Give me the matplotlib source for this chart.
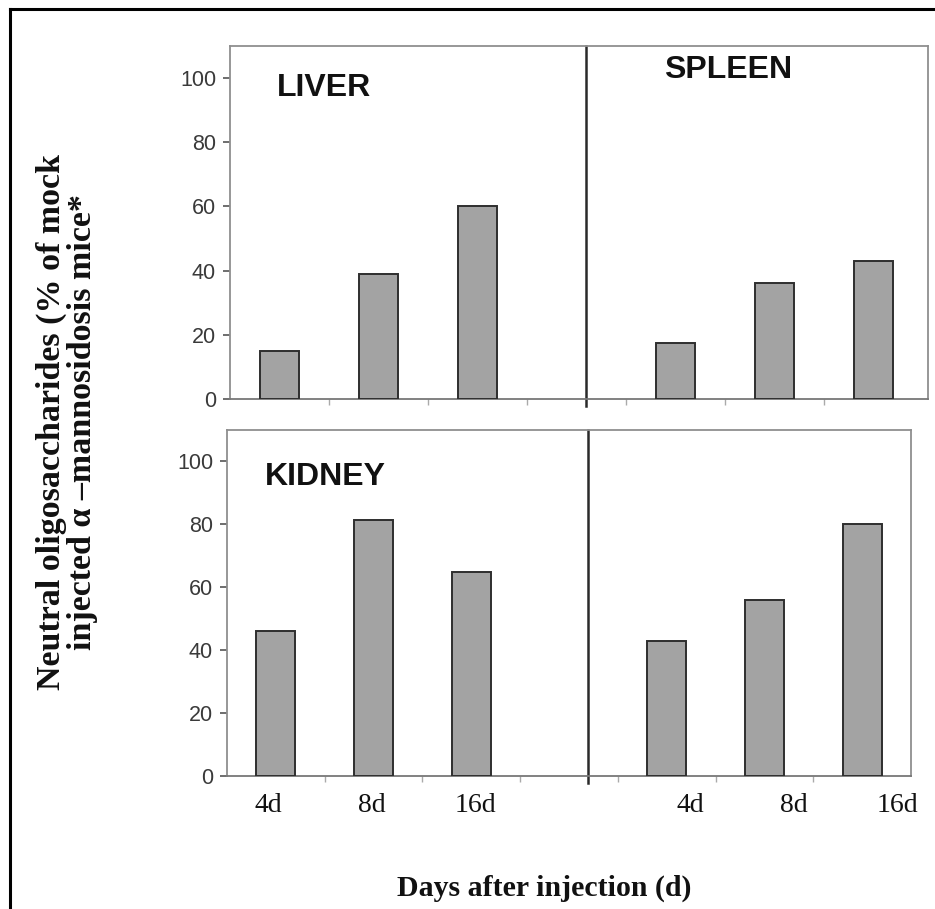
import matplotlib
matplotlib.use("Agg")
import matplotlib.pyplot as plt
from matplotlib.lines import Line2D
import matplotlib.transforms as mtransforms

# Neutral oligosaccharide levels (% of mock-injected alpha-mannosidosis mice)
days = ["4d", "8d", "16d"]
liver = [15, 39, 60]
spleen = [17.5, 36, 43]
kidney = [46, 81.5, 65]
right_bottom = [43, 56, 80]

yticks = [0, 20, 40, 60, 80, 100]
tissue_labels = ["LIVER", "SPLEEN", "KIDNEY"]
ylabel_text = "Neutral oligosaccharides (% of mock\ninjected \u03b1 \u2013mannosidosis mice*"
xlabel_text = "Days after injection (d)"

BAR_FACE = "#a3a3a3"
BAR_EDGE = "#2e2e2e"
FRAME = "#8f8f8f"
TICKC = "#555555"

fig = plt.figure(figsize=(9.35, 9.09), dpi=100)
W, H = 935, 909


def px_axes(x0, y0, x1, y1):
    return fig.add_axes([x0 / W, 1 - y1 / H, (x1 - x0) / W, (y1 - y0) / H])


ax_top = px_axes(230, 46, 928, 399)
ax_bot = px_axes(227, 430, 911, 776)

left_pos = [0.5, 1.5, 2.5]
right_pos = [4.5, 5.5, 6.5]


def style(ax, xmax, divider):
    ax.set_xlim(0, xmax)
    ax.set_ylim(0, 110)
    ax.set_yticks(yticks)
    ax.set_yticklabels([str(v) for v in yticks], fontsize=15.5,
                       color="#3a3a3a", family="Liberation Sans")
    ax.set_xticks([1, 2, 3, 4, 5, 6])
    ax.set_xticklabels([])
    ax.tick_params(axis="x", direction="out", length=4, width=1, color="#aaaaaa")
    ax.tick_params(axis="y", direction="out", length=5, width=1.2, color=TICKC, pad=5)
    for s in ax.spines.values():
        s.set_color(FRAME)
        s.set_linewidth(1.3)
    ax.spines["bottom"].set_color("#777777")
    trans = mtransforms.blended_transform_factory(ax.transData, ax.transAxes)
    ax.add_line(Line2D([divider, divider], [-0.02, 1.0], transform=trans,
                       color="#2a2a2a", lw=1.8, clip_on=False))


style(ax_top, 7.05, 3.6)
style(ax_bot, 7.0, 3.69)

bar_kw = dict(width=0.4, color=BAR_FACE, edgecolor=BAR_EDGE, linewidth=1.4, zorder=3)
ax_top.bar(left_pos, liver, **bar_kw)
ax_top.bar(right_pos, spleen, **bar_kw)
ax_bot.bar(left_pos, kidney, **bar_kw)
ax_bot.bar(right_pos, right_bottom, **bar_kw)

tfont = dict(family="Liberation Sans", fontweight="bold", fontsize=23, color="#111111")
ax_top.text(0.47, 97, tissue_labels[0], ha="left", va="center", **tfont)
ax_top.text(4.38, 102.5, tissue_labels[1], ha="left", va="center", **tfont)
ax_bot.text(0.39, 95, tissue_labels[2], ha="left", va="center", **tfont)

# Day labels under the lower panel, spread a little wider than the bars
trans_b = mtransforms.blended_transform_factory(ax_bot.transData, ax_bot.transAxes)
label_step = 1.06
for start in (0.42, 4.74):
    for i, lab in enumerate(days):
        ax_bot.text(start + i * label_step, -0.05, lab, transform=trans_b,
                    ha="center", va="top", family="Liberation Serif",
                    fontsize=20, color="#111111")

fig.text(67 / W, 1 - 422 / H, ylabel_text, rotation=90, ha="center", va="center",
         family="Liberation Serif", fontweight="bold", fontsize=24.5,
         linespacing=1.0, color="#111111")
fig.text(544 / W, 1 - 888 / H, xlabel_text, ha="center", va="center",
         family="Liberation Serif", fontweight="bold", fontsize=21.5, color="#111111")

# Outer frame (left and top edges)
fig.add_artist(Line2D([10 / W, 10 / W], [0, 1 - 9 / H], transform=fig.transFigure,
                      color="black", lw=2.2))
fig.add_artist(Line2D([10 / W, 1], [1 - 9 / H, 1 - 9 / H], transform=fig.transFigure,
                      color="black", lw=2.2))

fig.savefig("out.png", dpi=100)
